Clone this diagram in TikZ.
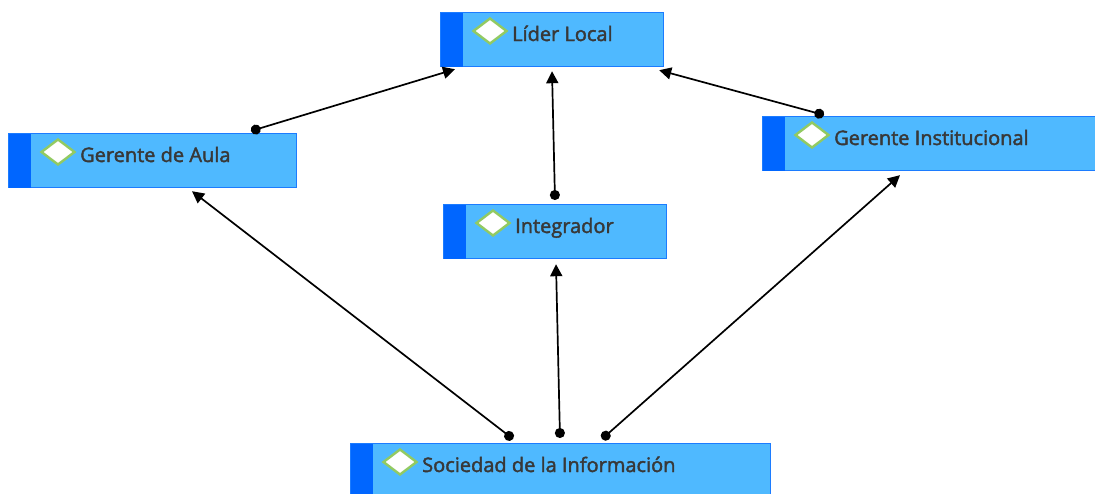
\documentclass[tikz,border=0pt]{standalone}
\usepackage{fontspec}
\setmainfont{Open Sans}[FakeBold=2]
\usetikzlibrary{arrows.meta,calc,shapes.geometric}
\definecolor{boxfill}{HTML}{4FB9FF}
\definecolor{boxline}{HTML}{1C7CFF}
\definecolor{stripc}{HTML}{0066FF}
\definecolor{diaedge}{HTML}{92CA62}
\definecolor{txt}{HTML}{383838}
\tikzset{
  box/.style={draw=boxline, line width=1.2pt, fill=boxfill, rectangle, anchor=north west, minimum height=54pt, inner sep=0pt},
  dia/.style={diamond, draw=diaedge, fill=white, line width=2.4pt, minimum width=34pt, minimum height=26pt, inner sep=0pt},
  lbl/.style={anchor=base west, text=txt, font=\fontsize{20}{22}\selectfont, inner sep=0pt},
  conn/.style={line width=1.7pt, {Circle[length=10pt]}-{Triangle[length=12pt,width=12pt]}}
}
\newcommand{\mybox}[4]{%
  \node[box, minimum width=#4pt] (#1) at (#2) {};
  \fill[stripc] ($(#1.north west)+(0.6,0.6)$) rectangle ($(#1.south west)+(23,-0.6)$);
  \node[dia] (#1d) at ($(#1.north west)+(50,19)$) {};
  \node[lbl] (#1t) at ($(#1.north west)+(72,29)$) {#3};
}
\begin{document}
\begin{tikzpicture}[x=1pt,y=-1pt]
\useasboundingbox (0,0) rectangle (1095,493);
\mybox{lider}{440,12}{Líder Local}{223}
\mybox{aula}{8,133}{Gerente de Aula}{288}
\mybox{inst}{762,116}{Gerente Institucional}{340}
\mybox{integ}{443,204}{Integrador}{223}
\mybox{soc}{350,443}{Sociedad de la Información}{420}
% connector endpoints
\coordinate (a1) at ($(aula.north west)+(243,-2)$);
\coordinate (a2) at ($(lider.south west)+(15,2)$);
\coordinate (b1) at ($(integ.north west)+(112,-4)$);
\coordinate (b2) at ($(lider.south west)+(112,4)$);
\coordinate (c1) at ($(inst.north west)+(62,-1)$);
\coordinate (c2) at ($(lider.south east)+(-5,3)$);
\coordinate (d1) at ($(soc.north west)+(163,-4)$);
\coordinate (d2) at ($(aula.south west)+(184,3)$);
\coordinate (e1) at ($(soc.north west)+(210,-5)$);
\coordinate (e2) at ($(integ.south west)+(113,5)$);
\coordinate (f1) at ($(soc.north west)+(252,-4)$);
\coordinate (f2) at ($(inst.south west)+(138,4)$);
\draw[conn] (a1) -- (a2);
\draw[conn] (b1) -- (b2);
\draw[conn] (c1) -- (c2);
\draw[conn] (d1) -- (d2);
\draw[conn] (e1) -- (e2);
\draw[conn] (f1) -- (f2);
\end{tikzpicture}
\end{document}
